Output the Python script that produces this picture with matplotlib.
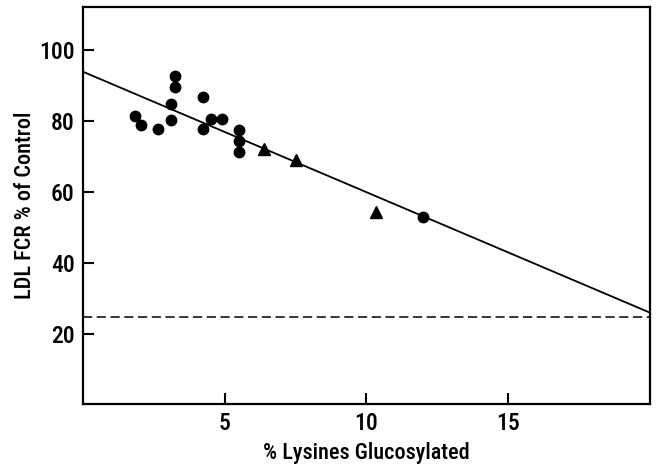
import matplotlib.pyplot as plt

# diabetic subjects (circles)
circle_x = [1.84, 2.05, 2.64, 3.11, 3.11, 3.26, 3.26, 4.23, 4.25, 4.52, 4.89, 5.49, 5.49, 5.49, 12.0]
circle_y = [81.5, 79.0, 77.9, 84.8, 80.2, 92.7, 89.5, 86.9, 77.9, 80.6, 80.5, 77.5, 74.5, 71.4, 53.0]

# triangles
tri_x = [6.40, 7.51, 10.35]
tri_y = [72.2, 69.1, 54.3]

# regression line end points and reference level
fit_x = [0, 20]
fit_y = [93.9, 26.1]
ref_level = 24.8

xticks = [5, 10, 15]
yticks = [20, 40, 60, 80, 100]

plt.rcParams["font.family"] = ["Roboto Condensed", "Archivo Narrow", "DejaVu Sans"]
plt.rcParams["font.weight"] = "medium"
plt.rcParams["axes.labelweight"] = "medium"

fig = plt.figure(figsize=(6.57, 4.65), dpi=100)
ax = fig.add_axes([0.1263, 0.1312, 0.8630, 0.8544])

ax.plot(fit_x, fit_y, color="black", linewidth=1.3)
ax.axhline(ref_level, color="black", linewidth=1.1, linestyle=(0, (6, 3)))
ax.plot(circle_x, circle_y, "o", color="black", markersize=7.5)
ax.plot(tri_x, tri_y, "^", color="black", markersize=8)

ax.set_xlim(0, 20)
ax.set_ylim(0.4, 112.2)
ax.set_xticks(xticks)
ax.set_yticks(yticks)
ax.tick_params(direction="in", length=8, width=1.5, labelsize=17, pad=6)
for s in ax.spines.values():
    s.set_linewidth(1.6)

ax.set_xlabel("% Lysines Glucosylated", fontsize=16, labelpad=5)
ax.set_ylabel("LDL FCR % of Control", fontsize=16, labelpad=2)

fig.savefig("out.png", dpi=100)
